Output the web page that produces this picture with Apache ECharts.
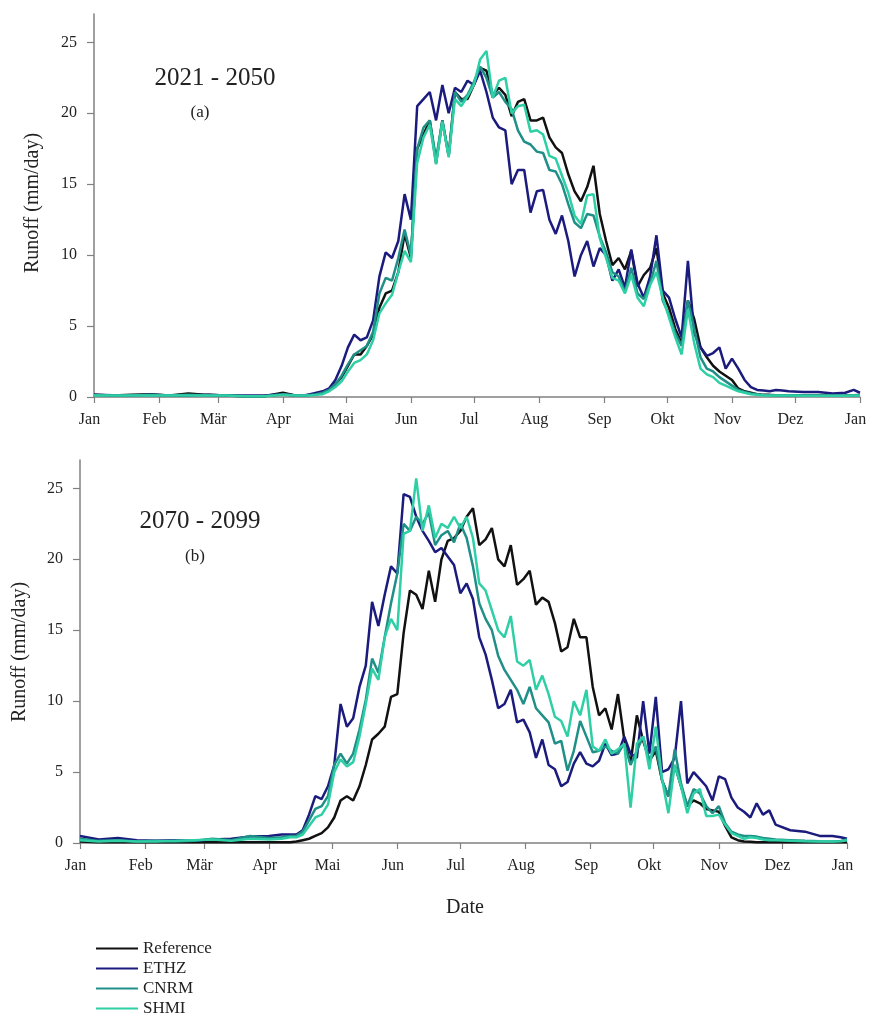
<!DOCTYPE html>
<html>
<head>
<meta charset="utf-8">
<script src="https://cdn.jsdelivr.net/npm/echarts@6/dist/echarts.min.js"></script>
<style>
  html, body { margin: 0; padding: 0; background: #fff; }
  #main { width: 872px; height: 1019px; }
</style>
</head>
<body>
<div id="main"></div>
<script>
// day of year for every sample (Jan 1 = 0)
var DAYS = [0, 9, 18, 27, 36, 45, 54, 63, 72, 81, 90, 96,
  100, 103, 106, 109, 112, 115, 118, 121, 124, 127, 130, 133, 136, 139, 142, 145, 148, 151, 154, 157,
  160, 163, 166, 169, 172, 175, 178, 181, 184, 187, 190, 193, 196, 199, 202, 205, 208, 211, 214, 217,
  220, 223, 226, 229, 232, 235, 238, 241, 244, 247, 250, 253, 256, 259, 262, 265, 268, 271, 274, 277,
  280, 283, 286, 289, 292, 295, 298, 301, 304, 307, 310, 313, 316, 319, 322, 325, 328, 331,
  338, 345, 352, 358, 362, 365]

var MONTH_DAYS = [0, 31, 59, 90, 120, 151, 181, 212, 243, 273, 304, 334, 365]
var MONTHS = ['Jan', 'Feb', 'Mär', 'Apr', 'Mai', 'Jun', 'Jul', 'Aug', 'Sep', 'Okt', 'Nov', 'Dez', 'Jan']
var Y_TICKS = [0, 5, 10, 15, 20, 25]
var NAMES = ['Reference', 'ETHZ', 'CNRM', 'SHMI']
var COLORS = ['#111111', '#1b1b7e', '#1f8f88', '#2fcfa6']

// (a) 2021 - 2050
var refA = [0.15, 0.1, 0.15, 0.2, 0.1, 0.25, 0.15, 0.1, 0.05, 0.05, 0.3, 0.1,
  0.1, 0.15, 0.2, 0.3, 0.5, 0.9, 1.4, 2.2, 3.0, 3.0,
  3.6, 4.4, 6.3, 7.3, 7.5, 8.8, 11.5, 9.8, 17.5, 18.5,
  19.5, 16.5, 19.5, 17.0, 21.5, 21.0, 21.0, 22.0, 23.2, 23.0,
  21.3, 21.8, 21.3, 19.8, 20.8, 21.0, 19.5, 19.5, 19.7, 18.3,
  17.6, 17.2, 15.7, 14.5, 13.8, 14.8, 16.3, 12.9, 11.0, 9.3,
  9.8, 9.0, 10.3, 7.8, 8.6, 9.1, 10.5, 7.3, 6.3, 4.8,
  3.8, 6.8, 5.5, 3.5, 2.8, 2.2, 1.8, 1.5, 1.2, 0.6,
  0.4, 0.3, 0.2, 0.15, 0.15, 0.12, 0.1, 0.1,
  0.1, 0.1, 0.08, 0.1, 0.12, 0.15]
var ethzA = [0.15, 0.12, 0.1, 0.15, 0.1, 0.1, 0.15, 0.1, 0.1, 0.1, 0.2, 0.1,
  0.1, 0.2, 0.3, 0.4, 0.6, 1.2, 2.2, 3.5, 4.4, 4.0,
  4.2, 5.4, 8.5, 10.2, 9.8, 11.0, 14.3, 12.5, 20.5, 21.0,
  21.5, 19.5, 22.0, 20.0, 21.8, 21.5, 22.3, 22.0, 23.0, 21.5,
  19.7, 19.0, 18.8, 15.0, 16.0, 16.0, 13.0, 14.5, 14.6, 12.5,
  11.5, 12.8, 11.0, 8.5, 10.0, 11.0, 9.2, 10.5, 10.0, 8.2,
  9.0, 7.7, 10.4, 8.0, 7.0, 8.5, 11.4, 7.5, 7.0, 5.5,
  4.2, 9.6, 4.5, 3.5, 2.9, 3.1, 3.5, 2.0, 2.7, 2.0,
  1.2, 0.7, 0.5, 0.45, 0.4, 0.5, 0.45, 0.4,
  0.35, 0.35, 0.25, 0.3, 0.5, 0.3]
var cnrmA = [0.12, 0.1, 0.1, 0.15, 0.1, 0.15, 0.1, 0.1, 0.05, 0.05, 0.2, 0.1,
  0.1, 0.15, 0.2, 0.3, 0.5, 0.9, 1.5, 2.3, 3.0, 3.3,
  3.6, 4.6, 7.3, 8.4, 8.2, 9.8, 11.8, 10.0, 17.5, 19.0,
  19.5, 16.8, 19.5, 17.0, 21.5, 20.8, 21.3, 22.2, 23.3, 22.5,
  21.1, 21.5, 20.8, 20.3, 18.8, 18.0, 17.8, 17.3, 17.2, 16.0,
  15.9, 15.0, 13.6, 12.3, 11.9, 12.9, 12.8, 11.3, 10.2, 8.8,
  8.5, 7.4, 9.1, 7.3, 6.9, 8.0, 9.6, 6.8, 5.8, 4.5,
  3.6, 6.8, 4.8, 2.8, 2.0, 1.8, 1.4, 1.1, 0.8, 0.5,
  0.35, 0.25, 0.2, 0.15, 0.12, 0.1, 0.1, 0.1,
  0.1, 0.08, 0.08, 0.08, 0.1, 0.1]
var shmiA = [0.1, 0.1, 0.1, 0.1, 0.1, 0.1, 0.1, 0.1, 0.05, 0.05, 0.15, 0.1,
  0.1, 0.1, 0.15, 0.2, 0.4, 0.7, 1.1, 1.8, 2.4, 2.6,
  3.0, 4.0, 5.9, 6.6, 7.2, 8.8, 10.3, 9.5, 16.5, 18.3,
  19.2, 16.4, 19.4, 16.9, 21.0, 20.5, 21.2, 22.0, 23.8, 24.4,
  21.1, 22.3, 22.5, 20.0, 20.5, 20.6, 18.7, 18.8, 18.5, 17.0,
  16.8, 15.6, 14.4, 12.8, 12.2, 14.2, 14.3, 11.2, 9.8, 8.4,
  8.2, 7.3, 8.6, 7.0, 6.4, 7.9, 8.8, 7.0, 5.6, 4.2,
  3.0, 6.2, 3.8, 2.0, 1.6, 1.4, 1.0, 0.8, 0.6, 0.4,
  0.3, 0.2, 0.15, 0.1, 0.1, 0.1, 0.1, 0.1,
  0.08, 0.08, 0.08, 0.08, 0.1, 0.1]

// (b) 2070 - 2099
var refB = [0.1, 0.05, 0.05, 0.05, 0.05, 0.05, 0.05, 0.05, 0.05, 0.05, 0.05, 0.05,
  0.05, 0.1, 0.2, 0.3, 0.5, 0.7, 1.1, 1.8, 3.0, 3.3,
  3.0, 4.0, 5.5, 7.3, 7.7, 8.2, 10.3, 10.5, 14.8, 17.8,
  17.5, 16.5, 19.2, 17.0, 20.0, 21.3, 21.5, 22.0, 23.0, 23.6,
  21.0, 21.4, 22.2, 20.0, 19.5, 21.0, 18.2, 18.6, 19.2, 16.8,
  17.3, 17.0, 15.5, 13.5, 13.8, 15.8, 14.5, 14.5, 11.0, 9.0,
  9.5, 8.0, 10.5, 7.3, 5.6, 9.0, 7.2, 5.8, 6.5, 4.4,
  3.3, 5.5, 4.0, 2.6, 3.0, 2.8, 2.4, 2.3, 2.2, 1.2,
  0.4, 0.2, 0.1, 0.08, 0.05, 0.05, 0.05, 0.05,
  0.05, 0.05, 0.05, 0.05, 0.05, 0.05]
var ethzB = [0.5, 0.25, 0.35, 0.2, 0.15, 0.2, 0.15, 0.25, 0.3, 0.45, 0.5, 0.6,
  0.6, 0.6, 0.9, 2.0, 3.3, 3.1, 4.0, 5.5, 9.8, 8.2,
  8.8, 11.0, 12.5, 17.0, 15.3, 17.5, 19.5, 19.0, 24.6, 24.4,
  23.0, 22.0, 21.3, 20.5, 20.8, 20.2, 19.6, 17.6, 18.3, 17.2,
  14.5, 13.3, 11.5, 9.5, 9.8, 10.8, 8.5, 8.7, 7.8, 6.0,
  7.3, 5.5, 5.2, 4.0, 4.3, 5.6, 6.4, 5.6, 5.4, 5.8,
  7.0, 6.2, 6.3, 7.5, 6.3, 6.0, 10.0, 6.3, 10.3, 5.0,
  5.2, 6.0, 10.0, 4.2, 5.0, 4.5, 4.0, 3.0, 4.7, 4.5,
  3.2, 2.5, 2.2, 1.8, 2.8, 2.0, 2.3, 1.3,
  0.9, 0.8, 0.5, 0.5, 0.4, 0.3]
var cnrmB = [0.3, 0.15, 0.2, 0.1, 0.15, 0.1, 0.15, 0.3, 0.2, 0.5, 0.35, 0.4,
  0.5, 0.5, 0.8, 1.6, 2.4, 2.6, 3.3, 5.5, 6.3, 5.6,
  6.3, 8.0, 10.1, 13.0, 12.0, 14.5, 16.9, 19.0, 22.5, 22.0,
  23.0, 22.5, 23.3, 21.0, 21.7, 22.0, 21.2, 22.5, 21.5, 19.5,
  16.9, 15.8, 15.0, 13.2, 12.2, 11.5, 10.8, 9.8, 11.0, 9.5,
  9.0, 8.5, 7.0, 7.2, 5.1, 6.5, 8.6, 7.5, 6.4, 6.5,
  6.8, 6.5, 6.3, 7.0, 5.5, 6.5, 7.5, 5.8, 6.8, 4.4,
  3.3, 6.6, 4.2, 2.6, 3.8, 3.5, 2.6, 2.1, 2.6, 1.4,
  0.8, 0.6, 0.5, 0.5, 0.45, 0.35, 0.3, 0.25,
  0.2, 0.15, 0.12, 0.1, 0.15, 0.25]
var shmiB = [0.2, 0.1, 0.15, 0.1, 0.1, 0.15, 0.2, 0.25, 0.15, 0.3, 0.25, 0.3,
  0.4, 0.4, 0.6, 1.2, 1.8, 2.0, 2.7, 5.0, 5.9, 5.4,
  5.7, 7.5, 9.8, 12.3, 11.5, 14.5, 15.8, 15.0, 21.8, 22.0,
  25.7, 22.0, 23.8, 21.5, 22.5, 22.2, 23.0, 22.2, 23.0, 21.5,
  18.3, 17.8, 16.4, 15.0, 14.5, 16.0, 12.8, 12.5, 12.9, 10.8,
  11.8, 10.5, 8.9, 8.6, 7.5, 10.0, 9.0, 10.8, 6.8, 6.5,
  7.3, 6.3, 6.6, 7.0, 2.5, 7.0, 7.5, 5.2, 8.2, 4.5,
  2.1, 5.5, 4.0, 2.1, 3.5, 3.8, 1.9, 1.9, 2.0, 1.3,
  0.7, 0.5, 0.3, 0.4, 0.35, 0.25, 0.2, 0.2,
  0.15, 0.12, 0.1, 0.1, 0.12, 0.2]

var FONT = '"Liberation Serif", "Times New Roman", serif'

var pairs = function(vals) {
    var out = []
    for (var i = 0; i < DAYS.length; i++) {
        out.push([DAYS[i], vals[i]])
    }
    return out
}

var xAxisFor = function(gridIndex) {
    return {
        type: 'value',
        gridIndex: gridIndex,
        min: 0,
        max: 365,
        splitLine: { show: false },
        axisLine: { show: true, lineStyle: { color: '#808080', width: 1.5 } },
        axisTick: { show: true, customValues: MONTH_DAYS, length: 6, inside: false,
                    lineStyle: { color: '#808080', width: 1.2 } },
        axisLabel: {
            customValues: MONTH_DAYS,
            margin: 15,
            padding: [0, 9, 0, 0],
            color: '#222',
            fontFamily: FONT,
            fontSize: 16,
            formatter: function(v) {
                var k = MONTH_DAYS.indexOf(Math.round(v))
                return k >= 0 ? MONTHS[k] : ''
            }
        }
    }
}

var yAxisFor = function(gridIndex) {
    return {
        type: 'value',
        gridIndex: gridIndex,
        min: 0,
        max: 27,
        splitLine: { show: false },
        axisLine: { show: true, lineStyle: { color: '#808080', width: 1.5 } },
        axisTick: { show: true, customValues: Y_TICKS, length: 7,
                    lineStyle: { color: '#808080', width: 1.2 } },
        axisLabel: { customValues: Y_TICKS, margin: 17, color: '#222',
                     fontFamily: FONT, fontSize: 16 }
    }
}

var seriesFor = function(gridIndex, lists) {
    var res = []
    for (var i = 0; i < NAMES.length; i++) {
        res.push({
            name: NAMES[i],
            type: 'line',
            xAxisIndex: gridIndex,
            yAxisIndex: gridIndex,
            symbol: 'none',
            smooth: false,
            lineStyle: { color: COLORS[i], width: 2.5 },
            itemStyle: { color: COLORS[i] },
            data: pairs(lists[i])
        })
    }
    return res
}

// one legend per row so the four entries stack at 20px steps
var legends = []
for (var i = 0; i < NAMES.length; i++) {
    legends.push({
        data: [NAMES[i]],
        left: 96,
        top: 940 + i * 20,
        padding: 0,
        itemWidth: 42,
        itemHeight: 12,
        itemTextGap: 8,
        icon: 'path://M0,9 L42,9 L42,11 L0,11 Z',
        textStyle: { color: '#222', fontFamily: FONT, fontSize: 17 }
    })
}

var mychart = echarts.init(document.getElementById('main'))
mychart.setOption({
    animation: false,
    backgroundColor: '#fff',
    grid: [
        { left: 94, right: 12, top: 14, height: 383 },
        { left: 80, right: 25, top: 460, height: 383 }
    ],
    xAxis: [xAxisFor(0), xAxisFor(1)],
    yAxis: [yAxisFor(0), yAxisFor(1)],
    legend: legends,
    graphic: [
        { type: 'text', x: 215, y: 78, style: { text: '2021 - 2050', font: '25px ' + FONT,
          fill: '#222', align: 'center', verticalAlign: 'middle' } },
        { type: 'text', x: 200, y: 113, style: { text: '(a)', font: '17px ' + FONT,
          fill: '#222', align: 'center', verticalAlign: 'middle' } },
        { type: 'text', x: 200, y: 521, style: { text: '2070 - 2099', font: '25px ' + FONT,
          fill: '#222', align: 'center', verticalAlign: 'middle' } },
        { type: 'text', x: 195, y: 557, style: { text: '(b)', font: '17px ' + FONT,
          fill: '#222', align: 'center', verticalAlign: 'middle' } },
        { type: 'text', x: 33, y: 203, rotation: Math.PI / 2, style: { text: 'Runoff (mm/day)',
          font: '20px ' + FONT, fill: '#222', align: 'center', verticalAlign: 'middle' } },
        { type: 'text', x: 20, y: 652, rotation: Math.PI / 2, style: { text: 'Runoff (mm/day)',
          font: '20px ' + FONT, fill: '#222', align: 'center', verticalAlign: 'middle' } },
        { type: 'text', x: 465, y: 908, style: { text: 'Date', font: '20px ' + FONT,
          fill: '#222', align: 'center', verticalAlign: 'middle' } }
    ],
    series: seriesFor(0, [refA, ethzA, cnrmA, shmiA]).concat(seriesFor(1, [refB, ethzB, cnrmB, shmiB]))
})
</script>
</body>
</html>
